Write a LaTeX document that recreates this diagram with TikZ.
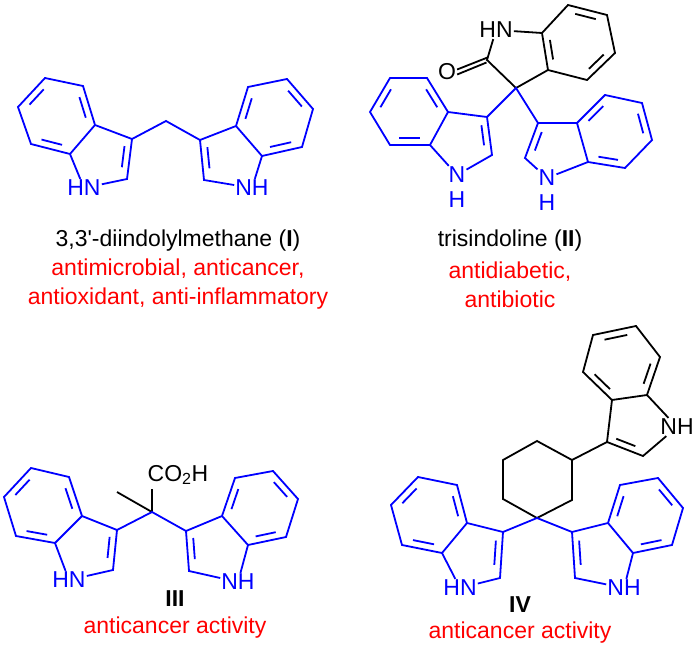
\documentclass[tikz,border=0pt]{standalone}
\usepackage{fontspec}
\setmainfont{Liberation Sans}
\usetikzlibrary{calc,positioning}

\tikzset{bond/.style={line width=1.8pt, line join=miter},
         atom/.style={inner sep=1pt, font=\fontsize{23}{25}\selectfont},
         caption/.style={align=center, inner sep=1pt, font=\fontsize{23}{29}\selectfont}}
\definecolor{molblue}{RGB}{0,0,255}
\definecolor{actred}{RGB}{255,0,0}

% inner line of a double bond, pulled towards the ring centre
\newcommand\dbl[3]{\draw[bond] ($(#1)!0.17!(#2)!0.2!(#3)$) -- ($(#2)!0.17!(#1)!0.2!(#3)$);}
% indole skeleton from named atoms <p>3a,<p>4 ... <p>n
\newcommand\indole[1]{%
  \coordinate (#1b) at ($(#14)!0.5!(#17)$);
  \coordinate (#1p) at ($(#13)!0.55!(#17a)$);
  \draw[bond] (#13a) -- (#14) -- (#15) -- (#16) -- (#17) -- (#17a) -- (#13a) -- (#13) -- (#12) -- (#1n) -- (#17a);
  \dbl{#13a}{#14}{#1b}\dbl{#15}{#16}{#1b}\dbl{#17}{#17a}{#1b}\dbl{#13}{#12}{#1p}}

\begin{document}
\begin{tikzpicture}[x=1pt,y=-1pt]
\useasboundingbox (0,0) rectangle (699,669);

% I: 3,3'-diindolylmethane
\begin{scope}[molblue]
  \coordinate (a3a) at (95,125); \coordinate (a4) at (83,86); \coordinate (a5) at (45,78);
  \coordinate (a6) at (18,107);  \coordinate (a7) at (31,144); \coordinate (a7a) at (70,154);
  \coordinate (a3) at (132,139); \coordinate (a2) at (127,179);
  \node[atom] (an) at (84,188) {HN};
  \indole{a}
  \coordinate (b3a) at (236,126); \coordinate (b4) at (248,87); \coordinate (b5) at (287,79);
  \coordinate (b6) at (313,109); \coordinate (b7) at (302,147); \coordinate (b7a) at (262,156);
  \coordinate (b3) at (200,140); \coordinate (b2) at (204,180);
  \node[atom] (bn) at (252,188) {NH};
  \indole{b}
  \coordinate (ch2) at (166,121);
  \draw[bond] (a3) -- (ch2) -- (b3);
\end{scope}

% II: trisindoline
\coordinate (sp) at (516,88);
\coordinate (o2) at (487,60); \coordinate (o3a) at (548,70); \coordinate (o7a) at (542,33);
\coordinate (o7) at (568,5); \coordinate (o6) at (607,15); \coordinate (o5) at (615,53); \coordinate (o4) at (587,80);
\node[atom] (on) at (496,30) {HN};
\node[atom] (oo) at (447,72) {O};
\coordinate (ob) at ($(o4)!0.5!(o7)$);
\draw[bond] (sp) -- (o2) -- (on) -- (o7a) -- (o3a) -- (sp);
\draw[bond] (o3a) -- (o4) -- (o5) -- (o6) -- (o7) -- (o7a);
\dbl{o3a}{o7a}{ob}\dbl{o6}{o7}{ob}\dbl{o4}{o5}{ob}
\draw[bond] ($(o2)+(0.5,-2.5)$) -- ($(oo.east)+(0,-2.5)$);
\draw[bond] ($(o2)+(-0.5,2.5)$) -- ($(oo.east)+(0,2.5)$);
\begin{scope}[molblue]
  \coordinate (c3a) at (448,112); \coordinate (c4) at (427,78); \coordinate (c5) at (390,78);
  \coordinate (c6) at (370,112); \coordinate (c7) at (390,145); \coordinate (c7a) at (430,145);
  \coordinate (c3) at (487,117); \coordinate (c2) at (492,155);
  \node[atom] (cn) at (457,175) {N};
  \node[atom] at (457,200) {H};
  \indole{c}
  \coordinate (d3a) at (577,123); \coordinate (d4) at (605,95); \coordinate (d5) at (642,103);
  \coordinate (d6) at (652,140); \coordinate (d7) at (625,168); \coordinate (d7a) at (588,162);
  \coordinate (d3) at (538,123); \coordinate (d2) at (525,158);
  \node[atom] (dn) at (547,178) {N};
  \node[atom] at (547,203) {H};
  \indole{d}
  \draw[bond] (c3) -- (sp) -- (d3);
\end{scope}

% III
\coordinate (q) at (152,512);
\draw[bond] (q) -- (117,492);
\node[atom] (co) at (178,475) {CO\textsubscript{2}H};
\draw[bond] (q) -- (152,489);
\begin{scope}[molblue]
  \coordinate (e3a) at (82,516); \coordinate (e4) at (69,477); \coordinate (e5) at (31,468);
  \coordinate (e6) at (4,497); \coordinate (e7) at (16,536); \coordinate (e7a) at (55,543);
  \coordinate (e3) at (117,530); \coordinate (e2) at (113,570);
  \node[atom] (en) at (69,580) {HN};
  \indole{e}
  \coordinate (f3a) at (222,516); \coordinate (f4) at (235,478); \coordinate (f5) at (273,471);
  \coordinate (f6) at (298,499); \coordinate (f7) at (286,537); \coordinate (f7a) at (248,545);
  \coordinate (f3) at (186,531); \coordinate (f2) at (189,571);
  \node[atom] (fn) at (238,582) {NH};
  \indole{f}
  \draw[bond] (e3) -- (q) -- (f3);
\end{scope}

% IV
\coordinate (h1) at (537,518); \coordinate (h2) at (572,500); \coordinate (h3) at (572,460);
\coordinate (h4) at (537,441); \coordinate (h5) at (503,460); \coordinate (h6) at (503,499);
\draw[bond] (h1) -- (h2) -- (h3) -- (h4) -- (h5) -- (h6) -- (h1);
\coordinate (g3a) at (612,400); \coordinate (g4) at (583,372); \coordinate (g5) at (593,335);
\coordinate (g6) at (636,326); \coordinate (g7) at (660,357); \coordinate (g7a) at (647,395);
\coordinate (g3) at (607,442); \coordinate (g2) at (643,456);
\node[atom] (gn) at (677,427) {NH};
\indole{g}
\draw[bond] (h3) -- (g3);
\begin{scope}[molblue]
  \coordinate (k3a) at (467,523); \coordinate (k4) at (457,485); \coordinate (k5) at (418,477);
  \coordinate (k6) at (391,505); \coordinate (k7) at (402,545); \coordinate (k7a) at (442,553);
  \coordinate (k3) at (503,532); \coordinate (k2) at (500,578);
  \node[atom] (kn) at (460,588) {HN};
  \indole{k}
  \coordinate (m3a) at (608,523); \coordinate (m4) at (620,485); \coordinate (m5) at (658,478);
  \coordinate (m6) at (683,508); \coordinate (m7) at (672,545); \coordinate (m7a) at (633,553);
  \coordinate (m3) at (572,532); \coordinate (m2) at (575,578);
  \node[atom] (mn) at (624,588) {NH};
  \indole{m}
  \draw[bond] (k3) -- (h1) -- (m3);
\end{scope}

% captions
\node[caption] (capI) at (178,241) {3,3\textquotesingle-diindolylmethane (\textbf{I})};
\node[caption, actred] (actI) at (178,284)
  {antimicrobial, anticancer,\\antioxidant, anti-inflammatory};
\node[caption] (capII) at (510,241) {trisindoline (\textbf{II})};
\node[caption, actred] (actII) at (510,285) {antidiabetic,\\antibiotic};
\node[caption] (capIII) at (175,599) {\textbf{III}};
\node[caption, actred] (actIII) at (175,628) {anticancer activity};
\node[caption] (capIV) at (520,605) {\textbf{IV}};
\node[caption, actred] (actIV) at (520,633) {anticancer activity};
\end{tikzpicture}
\end{document}
